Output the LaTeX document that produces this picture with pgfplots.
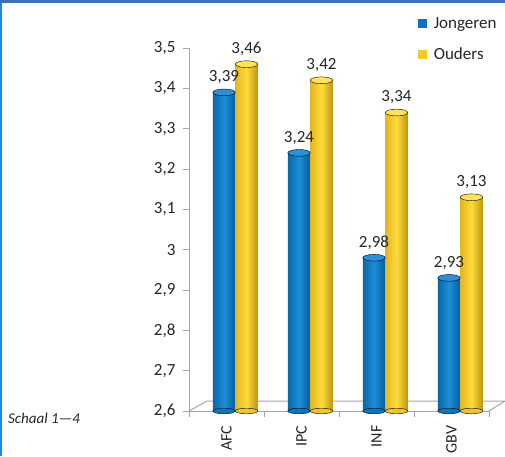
\documentclass[border=0pt]{standalone}
\usepackage{pgfplots}
\pgfplotsset{compat=1.18}
\usepackage{fontspec}
\setmainfont{Carlito}
\definecolor{topblue}{HTML}{3B70B2}
\definecolor{leftblue}{HTML}{1E88E0}
\definecolor{axgray}{HTML}{A6A6A6}
\definecolor{txt}{HTML}{262626}
\definecolor{blueL}{HTML}{0868AA}
\definecolor{blueM}{HTML}{1C8ED8}
\definecolor{blueR}{HTML}{075C9A}
\definecolor{blueBot}{HTML}{0A74BC}
\definecolor{blueTop}{HTML}{2B90D8}
\definecolor{yelL}{HTML}{E2B61E}
\definecolor{yelM}{HTML}{FFDB3C}
\definecolor{yelR}{HTML}{BC9614}
\definecolor{yelBot}{HTML}{EEC42A}
\definecolor{yelTop}{HTML}{FFE35E}
\definecolor{legblue}{HTML}{0A72C2}
\definecolor{legyel}{HTML}{F2CA2E}
\pgfplotsset{
  valnode/.style={
    nodes near coords={\pgfmathprintnumber[fixed,fixed zerofill,precision=2,use comma,assume math mode=true]{\pgfplotspointmeta}},
    every node near coord/.append style={font=\fontsize{17}{20}\selectfont, text=txt, yshift=5pt, fill=none}},
  bluebar/.style={ybar, forget plot, bar width=22.5pt, bar shift=0pt, draw=none,
    left color=blueL, right color=blueR, middle color=blueM, valnode},
  yelbar/.style={ybar, forget plot, bar width=22.5pt, bar shift=0pt, draw=none,
    left color=yelL, right color=yelR, middle color=yelM, valnode},
}
\begin{document}
\begin{tikzpicture}[x=1pt,y=1pt]
\useasboundingbox (0,0) rectangle (505,456);
\fill[white] (0,0) rectangle (505,456);
\fill[topblue] (0,453) rectangle (505,456);
\fill[leftblue] (0,0) rectangle (2,453);
\node[anchor=west, inner sep=0pt, text=txt, font=\fontsize{15}{18}\selectfont\itshape] at (8,38) {Schaal 1—4};
\begin{axis}[
  at={(189pt,45pt)}, anchor=south west, scale only axis,
  width=300pt, height=363pt,
  xmin=0, xmax=4, ymin=2.6, ymax=3.5, clip=false,
  axis x line*=bottom, axis y line*=left,
  axis line style={draw=axgray, line width=1pt},
  tick style={draw=axgray, line width=1pt},
  tick align=outside, major tick length=6pt, minor tick length=6pt,
  ytick={2.6,2.7,2.8,2.9,3.0,3.1,3.2,3.3,3.4,3.5},
  /pgf/number format/assume math mode=true,
  yticklabel style={/pgf/number format/.cd, fixed, use comma, precision=1, /tikz/.cd,
     font=\fontsize{17}{20}\selectfont, text=txt, xshift=-4pt},
  xtick={0.5,1.5,2.5,3.5}, xticklabels={AFC,IPC,INF,GBV},
  major x tick style={draw=none},
  minor xtick={0,1,2,3,4},
  xticklabel style={rotate=90, anchor=east, font=\fontsize{16}{19}\selectfont, text=txt, xshift=-5pt},
  legend style={draw=none, fill=none, at={(0.762,1.09)}, anchor=north west, inner sep=0pt,
     font=\fontsize{17}{20}\selectfont, text=txt, row sep=14pt, cells={anchor=west}},
]
% legend
\addlegendimage{draw=none, legend image code/.code={\fill[legblue, draw=none] (0pt,-4.5pt) rectangle (9pt,4.5pt); \path[draw=none, fill=none] (0pt,0pt) rectangle (14pt,0.1pt);}}
\addlegendentry{Jongeren}
\addlegendimage{draw=none, legend image code/.code={\fill[legyel, draw=none] (0pt,-4.5pt) rectangle (9pt,4.5pt); \path[draw=none, fill=none] (0pt,0pt) rectangle (14pt,0.1pt);}}
\addlegendentry{Ouders}
% floor
\draw[axgray, line width=1pt] (axis cs:0,2.6) -- ++(18pt,10pt) -- ++(298pt,0pt) -- (axis cs:4,2.6);
% bottom ellipses
\addplot[only marks, forget plot, mark=*, mark size=11.25pt, mark options={draw=none, fill=blueBot, yscale=0.25}]
  coordinates {(0.467,2.6) (1.467,2.6) (2.467,2.6) (3.467,2.6)};
\addplot[only marks, forget plot, mark=*, mark size=11.25pt, mark options={draw=none, fill=yelBot, yscale=0.25}]
  coordinates {(0.767,2.6) (1.767,2.6) (2.767,2.6) (3.767,2.6)};
% bars (Jongeren)
\addplot[bluebar] coordinates {(0.467,3.39)};
\addplot[bluebar] coordinates {(1.467,3.24)};
\addplot[bluebar] coordinates {(2.467,2.98)};
\addplot[bluebar] coordinates {(3.467,2.93)};
\addplot[only marks, forget plot, mark=*, mark size=11.25pt, mark options={draw=none, fill=blueTop, yscale=0.3}]
  coordinates {(0.467,3.39) (1.467,3.24) (2.467,2.98) (3.467,2.93)};
% bars (Ouders)
\addplot[yelbar] coordinates {(0.767,3.46)};
\addplot[yelbar] coordinates {(1.767,3.42)};
\addplot[yelbar] coordinates {(2.767,3.34)};
\addplot[yelbar] coordinates {(3.767,3.13)};
\addplot[only marks, forget plot, mark=*, mark size=11.25pt, mark options={draw=none, fill=yelTop, yscale=0.3}]
  coordinates {(0.767,3.46) (1.767,3.42) (2.767,3.34) (3.767,3.13)};
\end{axis}
\end{tikzpicture}
\end{document}
